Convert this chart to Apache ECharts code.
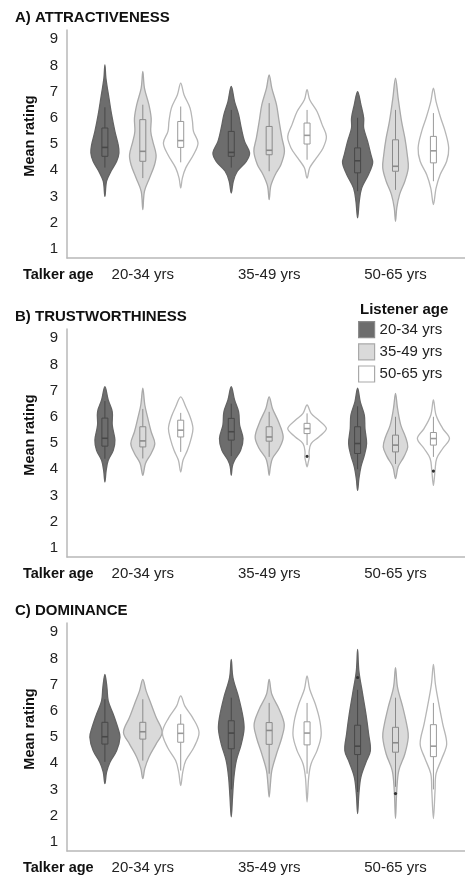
<!DOCTYPE html>
<html>
<head>
<meta charset="utf-8">
<script src="https://cdn.jsdelivr.net/npm/echarts@6.0.0/dist/echarts.min.js"></script>
<style>
html, body { margin: 0; padding: 0; background: #fff; }
#main { width: 465px; height: 876px; }
</style>
</head>
<body>
<div id="main"></div>
<script>
var talkerAges = ['20-34 yrs', '35-49 yrs', '50-65 yrs'];
var listenerAges = ['20-34 yrs', '35-49 yrs', '50-65 yrs'];
var panelTitles = ['A) ATTRACTIVENESS', 'B) TRUSTWORTHINESS', 'C) DOMINANCE'];
var ratingTicks = [1, 2, 3, 4, 5, 6, 7, 8, 9];

// violin outlines, bottom to top: [rating, half width in 1/100 of a talker slot]
// order: talker 20-34 (listener 20-34, 35-49, 50-65), talker 35-49 (...), talker 50-65 (...)
var attractivenessViolins = [
  [[3.0,0],[3.58,1.3],[3.96,4.8],[4.34,9.3],[4.66,11.1],[4.97,10.5],[5.48,7.9],[6.12,5.3],[6.75,3.2],[7.51,0.8],[8.02,0]],
  [[2.5,0],[3.19,1.3],[3.7,5.3],[4.21,9.3],[4.59,10.5],[5.1,7.9],[5.48,6.3],[5.99,6.6],[6.5,4.8],[7.13,1.3],[7.77,0]],
  [[3.32,0],[3.7,1.3],[4.09,4.0],[4.59,10.1],[5.04,13.7],[5.48,10.1],[5.86,9.3],[6.37,7.4],[6.88,2.6],[7.32,0]],
  [[3.13,0],[3.58,1.6],[3.96,4.8],[4.34,11.9],[4.66,14.5],[5.1,10.5],[5.61,7.9],[6.12,5.8],[6.62,2.6],[7.2,0]],
  [[2.88,0],[3.4,1.3],[3.83,4.8],[4.21,9.3],[4.72,12.1],[5.23,10.1],[5.86,7.9],[6.5,5.8],[7.13,2.1],[7.64,0]],
  [[3.7,0],[4.09,2.1],[4.47,7.4],[4.85,12.7],[5.29,15.3],[5.74,11.9],[6.24,7.9],[6.69,2.1],[7.07,0]],
  [[2.18,0],[2.81,1.3],[3.32,3.2],[3.83,8.5],[4.28,11.9],[4.59,10.5],[5.1,7.9],[5.61,4.8],[5.99,4.8],[6.5,2.6],[7.0,0]],
  [[2.05,0],[2.56,1.0],[3.07,3.2],[3.58,7.4],[4.09,10.1],[4.59,9.3],[5.23,7.4],[5.86,4.8],[6.75,2.1],[7.51,0]],
  [[2.69,0],[3.32,2.1],[3.83,5.3],[4.34,10.5],[4.85,12.1],[5.48,9.3],[5.99,5.8],[6.62,2.1],[7.13,0]]
];
// box plots: [whisker low, q1, median, q3, whisker high]
var attractivenessBoxes = [
  [4.1, 4.53, 4.87, 5.61, 6.4],
  [3.7, 4.34, 4.72, 5.93, 6.5],
  [4.3, 4.87, 5.13, 5.86, 6.43],
  [4.1, 4.53, 4.68, 5.48, 6.3],
  [3.96, 4.59, 4.76, 5.67, 6.56],
  [4.4, 5.0, 5.33, 5.8, 6.3],
  [3.2, 3.9, 4.36, 4.85, 6.0],
  [3.25, 3.96, 4.15, 5.16, 6.3],
  [3.58, 4.28, 4.74, 5.29, 6.18]
];
var attractivenessOutliers = [];

var trustworthinessViolins = [
  [[3.51,0],[3.96,1.0],[4.34,2.6],[4.72,6.6],[5.11,7.9],[5.68,5.8],[6.19,5.8],[6.64,2.6],[7.15,0]],
  [[3.77,0],[4.22,2.1],[4.6,6.6],[4.98,9.5],[5.43,6.6],[5.94,4.0],[6.45,1.6],[7.09,0]],
  [[3.89,0],[4.34,1.8],[4.72,5.3],[5.11,7.9],[5.55,9.7],[6.0,7.4],[6.38,4.0],[6.76,0]],
  [[3.77,0],[4.1,0.8],[4.34,2.6],[4.72,7.4],[5.17,9.3],[5.68,6.6],[6.19,5.8],[6.64,2.6],[7.15,0]],
  [[3.77,0],[4.1,1.0],[4.41,2.6],[4.79,7.9],[5.23,11.1],[5.81,7.4],[6.32,2.6],[6.76,0]],
  [[4.09,0],[4.28,1.0],[4.47,1.8],[4.66,1.6],[4.98,3.2],[5.23,9.3],[5.55,15.3],[5.87,9.3],[6.13,3.2],[6.45,0]],
  [[3.19,0],[3.64,1.0],[4.09,2.6],[4.53,5.3],[4.98,7.1],[5.55,5.8],[6.06,5.3],[6.57,2.1],[7.09,0]],
  [[3.64,0],[4.09,2.1],[4.47,6.6],[4.85,9.7],[5.23,7.9],[5.68,4.2],[6.32,1.6],[6.89,0]],
  [[3.38,0],[3.96,1.3],[4.41,2.6],[4.79,7.4],[5.17,12.7],[5.55,7.4],[6.06,2.1],[6.64,0]]
];
var trustworthinessBoxes = [
  [4.4, 4.88, 5.18, 5.95, 6.6],
  [4.41, 4.85, 5.08, 5.62, 6.3],
  [4.66, 5.23, 5.49, 5.87, 6.15],
  [4.5, 5.11, 5.43, 5.94, 6.5],
  [4.47, 5.07, 5.23, 5.62, 6.19],
  [4.92, 5.36, 5.55, 5.75, 6.13],
  [4.0, 4.6, 4.98, 5.62, 6.4],
  [4.2, 4.66, 4.92, 5.3, 6.0],
  [4.47, 4.92, 5.17, 5.4, 6.0]
];
var trustworthinessOutliers = [[5, 4.49], [8, 3.93]];

var dominanceViolins = [
  [[3.22,0],[3.66,1.3],[4.04,4.0],[4.48,9.3],[4.99,11.9],[5.37,10.1],[5.87,6.6],[6.38,2.6],[6.89,1.6],[7.39,0]],
  [[3.41,0],[3.8,1.6],[4.23,4.8],[4.73,10.5],[5.18,15.3],[5.75,10.5],[6.25,6.6],[6.76,2.6],[7.2,0]],
  [[3.15,0],[3.66,1.6],[4.1,4.0],[4.61,10.5],[5.18,14.5],[5.75,9.3],[6.19,3.2],[6.57,0]],
  [[1.95,0],[2.71,1.0],[3.47,2.1],[4.1,4.0],[4.73,7.9],[5.3,10.1],[5.75,9.3],[6.51,5.8],[7.27,1.3],[7.96,0]],
  [[2.71,0],[3.21,1.0],[3.72,2.1],[4.35,5.8],[4.99,10.1],[5.49,11.9],[6.06,7.9],[6.63,2.1],[7.2,0]],
  [[2.52,0],[3.47,1.3],[3.98,3.2],[4.48,7.9],[5.05,11.1],[5.62,10.1],[6.25,6.6],[6.82,2.1],[7.33,0]],
  [[2.08,0],[2.84,1.0],[3.47,2.6],[4.04,6.6],[4.48,10.1],[5.11,8.7],[5.87,6.6],[6.63,4.0],[7.52,1.0],[8.34,0]],
  [[1.89,0],[2.96,1.0],[3.72,2.6],[4.35,7.4],[4.99,10.1],[5.37,9.3],[6.13,5.8],[6.89,1.6],[7.65,0]],
  [[1.89,0],[2.96,1.3],[3.6,2.1],[4.17,6.6],[4.73,10.5],[5.49,7.4],[6.13,4.8],[7.01,1.6],[7.77,0]]
];
var dominanceBoxes = [
  [4.05, 4.73, 5.01, 5.56, 6.44],
  [4.1, 4.92, 5.2, 5.56, 6.44],
  [3.72, 4.8, 5.14, 5.49, 5.87],
  [3.0, 4.55, 5.15, 5.62, 6.5],
  [3.6, 4.72, 5.25, 5.55, 6.3],
  [3.6, 4.7, 5.15, 5.58, 6.3],
  [2.9, 4.33, 4.65, 5.45, 6.8],
  [3.1, 4.42, 4.78, 5.37, 6.5],
  [3.0, 4.25, 4.65, 5.47, 6.3]
];
var dominanceOutliers = [[6, 7.27], [7, 2.84]];

var panels = [
  { violins: attractivenessViolins, boxes: attractivenessBoxes, outliers: attractivenessOutliers },
  { violins: trustworthinessViolins, boxes: trustworthinessBoxes, outliers: trustworthinessOutliers },
  { violins: dominanceViolins, boxes: dominanceBoxes, outliers: dominanceOutliers }
];

var chartDom = document.getElementById('main');
var myChart = echarts.init(chartDom);

var font = 'Liberation Sans, Arial, Helvetica, sans-serif';
var gridTops = [30, 329, 623];
var slotOffset = [-0.3, 0, 0.3];
var looks = [
  { fill: '#6d6d6d', stroke: '#636363', box: '#484848', legend: '#8c8c8c' },
  { fill: '#dadada', stroke: '#a9a9a9', box: '#8a8a8a', legend: '#a9a9a9' },
  { fill: '#ffffff', stroke: '#b6b6b6', box: '#9a9a9a', legend: '#a9a9a9' }
];

function violinRenderer(panel, li) {
  var look = looks[li];
  return function (params, api) {
    var k = params.dataIndex * 3 + li;
    var cx = api.value(0);
    var shape = panel.violins[k];
    var right = shape.map(function (d) { return api.coord([cx + d[1] / 100, d[0]]); });
    var left = shape.slice(1, -1).reverse().map(function (d) { return api.coord([cx - d[1] / 100, d[0]]); });
    var b = panel.boxes[k];
    var lo = api.coord([cx, b[0]]);
    var q1 = api.coord([cx, b[1]]);
    var med = api.coord([cx, b[2]]);
    var q3 = api.coord([cx, b[3]]);
    var hi = api.coord([cx, b[4]]);
    var x = med[0];
    var half = 3;
    var children = [
      { type: 'polygon', shape: { points: right.concat(left), smooth: 0.35 },
        style: { fill: look.fill, stroke: look.stroke, lineWidth: 1.3 } },
      { type: 'line', shape: { x1: x, y1: lo[1], x2: x, y2: q1[1] }, style: { stroke: look.box, lineWidth: 1 } },
      { type: 'line', shape: { x1: x, y1: q3[1], x2: x, y2: hi[1] }, style: { stroke: look.box, lineWidth: 1 } },
      { type: 'rect', shape: { x: x - half, y: q3[1], width: half * 2, height: q1[1] - q3[1] },
        style: { fill: look.fill, stroke: look.box, lineWidth: 1 } },
      { type: 'line', shape: { x1: x - half, y1: med[1], x2: x + half, y2: med[1] }, style: { stroke: look.box, lineWidth: 1.6 } }
    ];
    panel.outliers.forEach(function (o) {
      if (o[0] === k) {
        var p = api.coord([cx, o[1]]);
        children.push({ type: 'circle', shape: { cx: p[0], cy: p[1], r: 1.6 }, style: { fill: '#333' } });
      }
    });
    return { type: 'group', children: children };
  };
}

var grids = [], xAxes = [], yAxes = [], series = [], titles = [];
panels.forEach(function (panel, pi) {
  grids.push({ left: 67, right: 0, top: gridTops[pi], height: 228 });
  xAxes.push({
    type: 'value', gridIndex: pi, min: -0.6, max: 2.55,
    axisLine: { onZero: false, lineStyle: { color: '#b8b8b8', width: 1.5 } },
    axisTick: { show: false },
    splitLine: { show: false },
    axisLabel: {
      customValues: [0, 1, 2], margin: 9, fontSize: 15, color: '#222', fontFamily: font,
      formatter: function (v) { return talkerAges[Math.round(v)]; }
    }
  });
  yAxes.push({
    type: 'value', gridIndex: pi, min: 0.65, max: 9.35,
    name: 'Mean rating', nameLocation: 'middle', nameGap: 30,
    nameTextStyle: { fontSize: 14.5, fontWeight: 'bold', color: '#111', fontFamily: font, padding: [0, 0, 0, 16] },
    axisLine: { onZero: false, lineStyle: { color: '#b8b8b8', width: 1.5 } },
    axisTick: { show: false },
    splitLine: { show: false },
    axisLabel: { customValues: ratingTicks, margin: 9, fontSize: 15, color: '#222', fontFamily: font }
  });
  titles.push({ text: panelTitles[pi], left: 15, top: gridTops[pi] - 20, padding: 0,
    textStyle: { fontSize: 15, fontWeight: 'bold', color: '#111', fontFamily: font } });
  titles.push({ text: 'Talker age', left: 23, top: gridTops[pi] + 237, padding: 0,
    textStyle: { fontSize: 14.5, fontWeight: 'bold', color: '#111', fontFamily: font } });
  listenerAges.forEach(function (name, li) {
    series.push({
      type: 'custom', name: name, xAxisIndex: pi, yAxisIndex: pi,
      itemStyle: { color: looks[li].fill },
      data: talkerAges.map(function (t, ti) { return [ti + slotOffset[li], panel.boxes[ti * 3 + li][2]]; }),
      renderItem: violinRenderer(panel, li)
    });
  });
});
titles.push({ text: 'Listener age', left: 360, top: 302, padding: 0,
  textStyle: { fontSize: 15, fontWeight: 'bold', color: '#111', fontFamily: font } });

var option = {
  animation: false,
  textStyle: { fontFamily: font },
  title: titles,
  legend: {
    left: 358, top: 321, orient: 'vertical', padding: 0, itemGap: 5,
    itemWidth: 16, itemHeight: 16, icon: 'rect', selectedMode: false,
    textStyle: { fontSize: 15, color: '#222', fontFamily: font },
    data: listenerAges.map(function (n, i) {
      return { name: n, itemStyle: { color: looks[i].fill, borderColor: looks[i].legend, borderWidth: 1.2 } };
    })
  },
  grid: grids,
  xAxis: xAxes,
  yAxis: yAxes,
  series: series
};

option && myChart.setOption(option);
</script>
</body>
</html>
